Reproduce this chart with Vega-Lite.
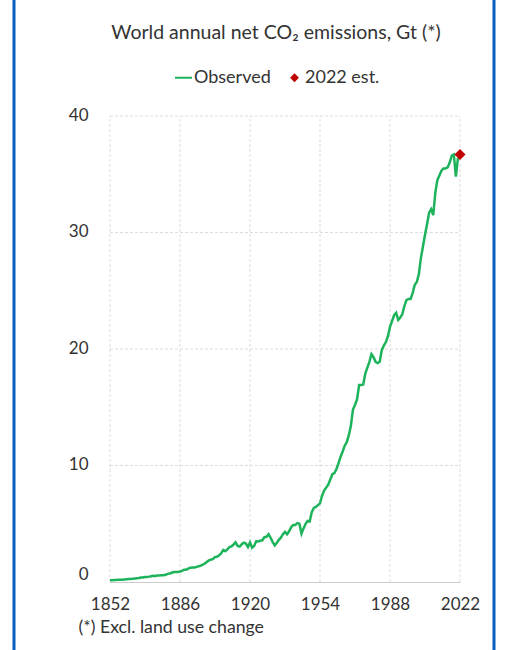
{
  "$schema": "https://vega.github.io/schema/vega-lite/v6.json",
  "width": 480,
  "height": 670,
  "autosize": "none",
  "padding": {"left": 14, "top": -10, "right": 15, "bottom": -10},
  "background": "white",
  "config": {
    "view": {"stroke": "#0b5fc2", "strokeWidth": 3, "fill": "white"},
    "font": "Lato"
  },
  "title": {
    "text": "World annual net CO₂ emissions, Gt (*)",
    "font": "Lato", "fontSize": 19.5, "fontWeight": "normal", "color": "#333333",
    "anchor": "middle", "frame": "group", "offset": -68, "baseline": "alphabetic", "dx": 22
  },
  "datasets": {
    "xgrid": [{"year": 1852}, {"year": 1886}, {"year": 1920}, {"year": 1954}, {"year": 1988}, {"year": 2022}],
    "ygrid": [{"value": 10}, {"value": 20}, {"value": 30}, {"value": 40}],
    "estimate": [{"year": 2022, "value": 36.7}],
    "observed": [
      {"year": 1852, "value": 0.15}, {"year": 1853, "value": 0.16}, {"year": 1854, "value": 0.18}, {"year": 1855, "value": 0.18},
      {"year": 1856, "value": 0.2}, {"year": 1857, "value": 0.2}, {"year": 1858, "value": 0.2}, {"year": 1859, "value": 0.22},
      {"year": 1860, "value": 0.24}, {"year": 1861, "value": 0.26}, {"year": 1862, "value": 0.26}, {"year": 1863, "value": 0.28},
      {"year": 1864, "value": 0.3}, {"year": 1865, "value": 0.33}, {"year": 1866, "value": 0.35}, {"year": 1867, "value": 0.38},
      {"year": 1868, "value": 0.38}, {"year": 1869, "value": 0.42}, {"year": 1870, "value": 0.43}, {"year": 1871, "value": 0.46},
      {"year": 1872, "value": 0.5}, {"year": 1873, "value": 0.54}, {"year": 1874, "value": 0.52}, {"year": 1875, "value": 0.55},
      {"year": 1876, "value": 0.56}, {"year": 1877, "value": 0.57}, {"year": 1878, "value": 0.58}, {"year": 1879, "value": 0.62},
      {"year": 1880, "value": 0.7}, {"year": 1881, "value": 0.72}, {"year": 1882, "value": 0.79}, {"year": 1883, "value": 0.85},
      {"year": 1884, "value": 0.85}, {"year": 1885, "value": 0.86}, {"year": 1886, "value": 0.9}, {"year": 1887, "value": 0.95},
      {"year": 1888, "value": 1.05}, {"year": 1889, "value": 1.06}, {"year": 1890, "value": 1.15}, {"year": 1891, "value": 1.22},
      {"year": 1892, "value": 1.24}, {"year": 1893, "value": 1.24}, {"year": 1894, "value": 1.28}, {"year": 1895, "value": 1.36},
      {"year": 1896, "value": 1.4}, {"year": 1897, "value": 1.48}, {"year": 1898, "value": 1.58}, {"year": 1899, "value": 1.72},
      {"year": 1900, "value": 1.85}, {"year": 1901, "value": 1.92}, {"year": 1902, "value": 1.97}, {"year": 1903, "value": 2.15},
      {"year": 1904, "value": 2.16}, {"year": 1905, "value": 2.3}, {"year": 1906, "value": 2.45}, {"year": 1907, "value": 2.75},
      {"year": 1908, "value": 2.65}, {"year": 1909, "value": 2.8}, {"year": 1910, "value": 3.0}, {"year": 1911, "value": 3.05},
      {"year": 1912, "value": 3.22}, {"year": 1913, "value": 3.4}, {"year": 1914, "value": 3.1}, {"year": 1915, "value": 3.05},
      {"year": 1916, "value": 3.25}, {"year": 1917, "value": 3.38}, {"year": 1918, "value": 3.3}, {"year": 1919, "value": 3.0},
      {"year": 1920, "value": 3.4}, {"year": 1921, "value": 2.95}, {"year": 1922, "value": 3.1}, {"year": 1923, "value": 3.5},
      {"year": 1924, "value": 3.48}, {"year": 1925, "value": 3.55}, {"year": 1926, "value": 3.58}, {"year": 1927, "value": 3.85},
      {"year": 1928, "value": 3.88}, {"year": 1929, "value": 4.1}, {"year": 1930, "value": 3.8}, {"year": 1931, "value": 3.45},
      {"year": 1932, "value": 3.15}, {"year": 1933, "value": 3.35}, {"year": 1934, "value": 3.62}, {"year": 1935, "value": 3.8},
      {"year": 1936, "value": 4.1}, {"year": 1937, "value": 4.3}, {"year": 1938, "value": 4.1}, {"year": 1939, "value": 4.35},
      {"year": 1940, "value": 4.7}, {"year": 1941, "value": 4.9}, {"year": 1942, "value": 4.9}, {"year": 1943, "value": 5.05},
      {"year": 1944, "value": 5.0}, {"year": 1945, "value": 4.15}, {"year": 1946, "value": 4.6}, {"year": 1947, "value": 5.0},
      {"year": 1948, "value": 5.25}, {"year": 1949, "value": 5.2}, {"year": 1950, "value": 6.0}, {"year": 1951, "value": 6.35},
      {"year": 1952, "value": 6.45}, {"year": 1953, "value": 6.6}, {"year": 1954, "value": 6.75}, {"year": 1955, "value": 7.4},
      {"year": 1956, "value": 7.85}, {"year": 1957, "value": 8.1}, {"year": 1958, "value": 8.35}, {"year": 1959, "value": 8.8},
      {"year": 1960, "value": 9.25}, {"year": 1961, "value": 9.35}, {"year": 1962, "value": 9.7}, {"year": 1963, "value": 10.2},
      {"year": 1964, "value": 10.75}, {"year": 1965, "value": 11.2}, {"year": 1966, "value": 11.7}, {"year": 1967, "value": 12.0},
      {"year": 1968, "value": 12.6}, {"year": 1969, "value": 13.4}, {"year": 1970, "value": 14.8}, {"year": 1971, "value": 15.2},
      {"year": 1972, "value": 15.7}, {"year": 1973, "value": 16.9}, {"year": 1974, "value": 16.9}, {"year": 1975, "value": 16.95},
      {"year": 1976, "value": 17.9}, {"year": 1977, "value": 18.4}, {"year": 1978, "value": 18.9}, {"year": 1979, "value": 19.55},
      {"year": 1980, "value": 19.3}, {"year": 1981, "value": 18.9}, {"year": 1982, "value": 18.8}, {"year": 1983, "value": 18.9},
      {"year": 1984, "value": 19.9}, {"year": 1985, "value": 20.3}, {"year": 1986, "value": 20.6}, {"year": 1987, "value": 21.1},
      {"year": 1988, "value": 21.9}, {"year": 1989, "value": 22.4}, {"year": 1990, "value": 22.9}, {"year": 1991, "value": 23.1},
      {"year": 1992, "value": 22.5}, {"year": 1993, "value": 22.7}, {"year": 1994, "value": 23.0}, {"year": 1995, "value": 23.7},
      {"year": 1996, "value": 24.2}, {"year": 1997, "value": 24.3}, {"year": 1998, "value": 24.3}, {"year": 1999, "value": 24.8},
      {"year": 2000, "value": 25.5}, {"year": 2001, "value": 25.75}, {"year": 2002, "value": 26.4}, {"year": 2003, "value": 27.8},
      {"year": 2004, "value": 28.8}, {"year": 2005, "value": 29.8}, {"year": 2006, "value": 30.7}, {"year": 2007, "value": 31.7},
      {"year": 2008, "value": 32.0}, {"year": 2009, "value": 31.5}, {"year": 2010, "value": 33.4}, {"year": 2011, "value": 34.5},
      {"year": 2012, "value": 34.9}, {"year": 2013, "value": 35.3}, {"year": 2014, "value": 35.5}, {"year": 2015, "value": 35.5},
      {"year": 2016, "value": 35.6}, {"year": 2017, "value": 36.0}, {"year": 2018, "value": 36.6}, {"year": 2019, "value": 36.7},
      {"year": 2020, "value": 34.8}, {"year": 2021, "value": 36.4}
    ]
  },
  "layer": [
    {
      "data": {"name": "ygrid"},
      "mark": {"type": "rule", "color": "#dcdcdc", "strokeDash": [3, 2], "strokeWidth": 1},
      "encoding": {
        "y": {"field": "value", "type": "quantitative"},
        "x": {"datum": 1852, "type": "quantitative"},
        "x2": {"datum": 2022}
      }
    },
    {
      "data": {"name": "xgrid"},
      "mark": {"type": "rule", "color": "#dcdcdc", "strokeDash": [3, 2], "strokeWidth": 1},
      "encoding": {
        "x": {"field": "year", "type": "quantitative"},
        "y": {"datum": 0, "type": "quantitative"},
        "y2": {"datum": 40}
      }
    },
    {
      "data": {"name": "observed"},
      "mark": {"type": "line", "strokeWidth": 2.5, "interpolate": "linear"},
      "encoding": {
        "x": {
          "field": "year", "type": "quantitative",
          "scale": {"domain": [1852, 2022], "range": [96, 446], "nice": false, "zero": false},
          "axis": {
            "values": [1852, 1886, 1920, 1954, 1988, 2022], "format": "d",
            "offset": -78, "domainColor": "#cccccc", "domainWidth": 1, "ticks": false, "grid": false,
            "labelFlush": false, "labelOverlap": false, "labelPadding": 14,
            "labelFont": "Lato", "labelFontSize": 17, "labelColor": "#333333",
            "title": "(*) Excl. land use change", "titleX": 64, "titleY": 50, "titleAlign": "left",
            "titleAnchor": "start", "titleBaseline": "alphabetic", "titleFont": "Lato", "titleFontSize": 17.7,
            "titleFontWeight": "normal", "titleColor": "#333333"
          }
        },
        "y": {
          "field": "value", "type": "quantitative",
          "scale": {"domain": [0, 40], "range": [592, 126], "nice": false},
          "axis": {
            "values": [0, 10, 20, 30, 40], "offset": -96, "domain": false, "ticks": false, "grid": false,
            "labelPadding": 22, "labelFont": "Lato", "labelFontSize": 17, "labelColor": "#333333",
            "labelOffset": {"condition": {"test": "datum.value === 0", "value": -8}, "value": -1},
            "title": null
          }
        },
        "color": {
          "datum": "Observed",
          "scale": {"domain": ["Observed", "2022 est."], "range": ["#1db35b", "#c00000"]},
          "legend": {
            "orient": "none", "legendX": 160, "legendY": 78, "direction": "horizontal", "title": null,
            "labelFont": "Lato", "labelFontSize": 18, "labelColor": "#333333",
            "columnPadding": 14, "symbolSize": 289, "labelOffset": 1,
            "encode": {
              "symbols": {
                "update": {
                  "shape": {"signal": "datum.value === '2022 est.' ? 'diamond' : 'stroke'"},
                  "size": {"signal": "datum.value === '2022 est.' ? 36 : 289"},
                  "fill": {"signal": "datum.value === '2022 est.' ? '#e00000' : 'transparent'"},
                  "stroke": {"signal": "datum.value === '2022 est.' ? 'transparent' : '#5ccf8c'"},
                  "strokeWidth": {"value": 2},
                  "opacity": {"value": 1}
                }
              }
            }
          }
        }
      }
    },
    {
      "data": {"name": "estimate"},
      "mark": {"type": "point", "shape": "diamond", "filled": true, "size": 121, "opacity": 1},
      "encoding": {
        "x": {"field": "year", "type": "quantitative"},
        "y": {"field": "value", "type": "quantitative"},
        "color": {"datum": "2022 est."}
      }
    }
  ]
}
